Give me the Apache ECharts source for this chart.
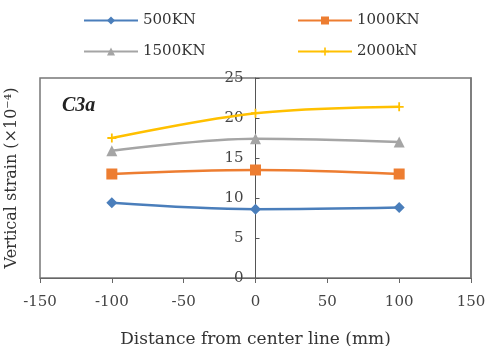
<!DOCTYPE html>
<html>
<head>
<meta charset="utf-8">
<script src="https://cdn.jsdelivr.net/npm/echarts@6/dist/echarts.min.js"></script>
<style>
  html, body { margin: 0; padding: 0; background: #fff; }
  #chart { width: 493px; height: 346px; }
</style>
</head>
<body>
<div id="chart"></div>
<script>
const positions = [-100, 0, 100];
const s500 = [9.4, 8.6, 8.8];
const s1000 = [13.0, 13.5, 13.0];
const s1500 = [15.9, 17.4, 17.0];
const s2000 = [17.5, 20.6, 21.4];
const seriesNames = ["500KN", "1000KN", "1500KN", "2000kN"];
const xTicks = [-150, -100, -50, 0, 50, 100, 150];
const yTicks = [0, 5, 10, 15, 20, 25];

const font = "DejaVu Serif";
const crossPath = "path://M4,0 L6,0 L6,4 L10,4 L10,6 L6,6 L6,10 L4,10 L4,6 L0,6 L0,4 L4,4 Z";

const pairs = (vals) => positions.map((x, i) => [x, vals[i]]);

function line(name, vals, color, symbol, size) {
  return {
    name: name,
    type: "line",
    smooth: 0.35,
    data: pairs(vals),
    symbol: symbol,
    symbolSize: size,
    lineStyle: { color: color, width: 2.5 },
    itemStyle: { color: color },
  };
}

function legendAt(name, left, top) {
  return {
    data: [name],
    left: left,
    top: top,
    padding: 0,
    itemWidth: 54,
    itemHeight: 10,
    itemGap: 0,
    textStyle: { fontFamily: font, fontSize: 15, color: "#333" },
  };
}

// grid runs -150..150 over 431px; the y axis sits on x = 0
const gridLeft = 40;
const gridWidth = 431;
const zeroOffset = -gridWidth / 2;

const chart = echarts.init(document.getElementById("chart"));
chart.setOption({
  animation: false,
  legend: [
    legendAt("500KN", 83, 13),
    legendAt("1000KN", 297, 13),
    legendAt("1500KN", 83, 44),
    legendAt("2000kN", 297, 44),
  ],
  grid: {
    left: gridLeft,
    width: gridWidth,
    top: 78,
    bottom: 68,
    outerBoundsMode: "none",
    containLabel: false,
    show: true,
    borderColor: "#777",
    borderWidth: 1.5,
  },
  graphic: [
    {
      type: "text",
      left: 62,
      top: 96,
      style: {
        text: "C3a",
        font: "italic bold 20px Liberation Serif",
        fill: "#222",
      },
    },
  ],
  xAxis: {
    type: "value",
    min: xTicks[0],
    max: xTicks[xTicks.length - 1],
    interval: 50,
    name: "Distance from center line (mm)",
    nameLocation: "middle",
    nameGap: 53,
    nameTextStyle: { fontFamily: font, fontSize: 17, color: "#333" },
    axisLine: { onZero: false, lineStyle: { color: "#666" } },
    axisTick: { show: true, length: 5, lineStyle: { color: "#666" } },
    axisLabel: { fontFamily: font, fontSize: 15, color: "#444", margin: 17 },
    splitLine: { show: false },
  },
  yAxis: [
    {
      type: "value",
      min: yTicks[0],
      max: yTicks[yTicks.length - 1],
      interval: 5,
      offset: zeroOffset,
      name: "Vertical strain (×10⁻⁴)",
      nameLocation: "middle",
      nameGap: 236,
      nameRotate: 90,
      nameTextStyle: { fontFamily: font, fontSize: 16, color: "#333" },
      axisLine: { show: true, onZero: false, lineStyle: { color: "#555" } },
      axisTick: { show: true, inside: true, length: 4, lineStyle: { color: "#555" } },
      axisLabel: { fontFamily: font, fontSize: 15, color: "#444", margin: 12 },
      splitLine: { show: false },
    },
    {
      // right-hand frame edge
      type: "value",
      position: "right",
      min: yTicks[0],
      max: yTicks[yTicks.length - 1],
      interval: 5,
      axisLine: { show: true, onZero: false, lineStyle: { color: "#777", width: 1.5 } },
      axisTick: { show: false },
      axisLabel: { show: false },
      splitLine: { show: false },
    },
  ],
  series: [
    line(seriesNames[0], s500, "#4a7ebb", "diamond", 11),
    line(seriesNames[1], s1000, "#ed7d31", "rect", 11),
    line(seriesNames[2], s1500, "#a5a5a5", "triangle", 11),
    line(seriesNames[3], s2000, "#ffc000", crossPath, 9),
  ],
});
</script>
</body>
</html>
